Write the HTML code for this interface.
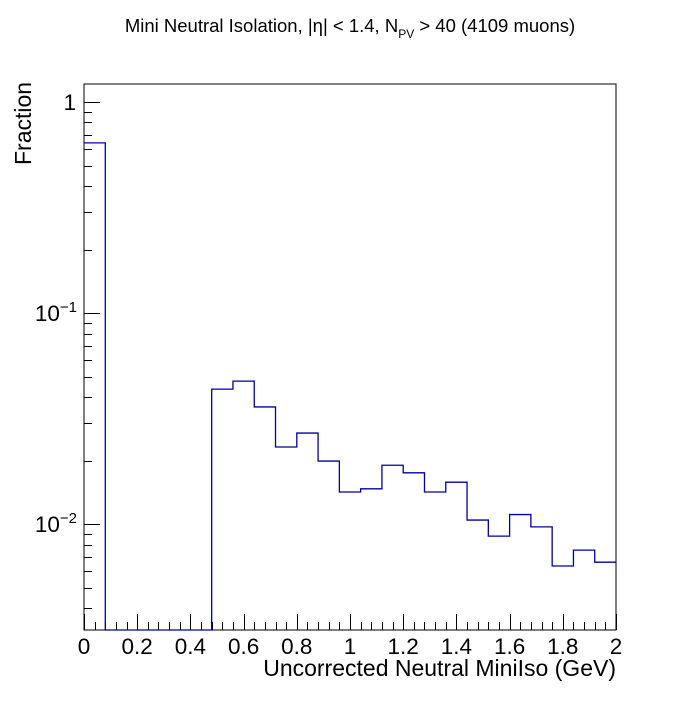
<!DOCTYPE html>
<html><head><meta charset="utf-8"><style>
body{margin:0;background:#fff;}
svg text{font-family:"Liberation Sans",sans-serif;}
</style></head><body>
<svg id="c" width="700" height="700" xmlns="http://www.w3.org/2000/svg">
<rect width="700" height="700" fill="#fff"/>
<text x="350" y="32" font-size="18.5" text-anchor="middle">Mini Neutral Isolation, |η| &lt; 1.4, N<tspan font-size="12" dy="6">PV</tspan><tspan dy="-6"> &gt; 40 (4109 muons)</tspan></text>
<text x="616" y="676" font-size="23" text-anchor="end">Uncorrected Neutral MiniIso (GeV)</text>
<text transform="translate(31,165) rotate(-90)" font-size="23" text-anchor="start">Fraction</text>
<rect x="84" y="84" width="532" height="546" fill="none" stroke="#000" stroke-width="1"/>
<g id="ticks"></g>
<g id="hist"></g>
</svg>
<script>
const binEdgesStart = 0, binWidth = 0.08;
const binValues = [0.64,0,0,0,0,0,0.0436,0.0476,0.0359,0.0232,0.027,0.0199,0.0142,0.0147,0.019,0.0175,0.0142,0.0158,0.01045,0.00877,0.0111,0.0097,0.00633,0.00753,0.0066];
const xTicks = [0,0.2,0.4,0.6,0.8,1,1.2,1.4,1.6,1.8,2];
const xTickLabels = ["0","0.2","0.4","0.6","0.8","1","1.2","1.4","1.6","1.8","2"];
const yDecades = [-2,-1,0];
const yMin = 0.00315, yMax = 1.217;
const X0=84,X1=616,Y0=630,Y1=84;
const sx = v => X0 + (v-0)/(2-0)*(X1-X0);
const sy = v => { if(v<=yMin) return Y0; const l=Math.log10(v); return Y0 - (l-Math.log10(yMin))/(Math.log10(yMax)-Math.log10(yMin))*(Y0-Y1); };
const NS="http://www.w3.org/2000/svg";
const tg=document.getElementById('ticks'), hg=document.getElementById('hist');
function line(g,x1,y1,x2,y2,col){const l=document.createElementNS(NS,'line');l.setAttribute('x1',x1);l.setAttribute('y1',y1);l.setAttribute('x2',x2);l.setAttribute('y2',y2);l.setAttribute('stroke',col||'#000');l.setAttribute('stroke-width','1');g.appendChild(l);return l;}
for(let i=0;i<=50;i++){const v=i*0.04;const x=Math.round(sx(v))+0.5;const major=i%5===0;
const t=line(tg,x,Y0,x,Y0-(major?16:8));

}
xTicks.forEach((v,i)=>{const t=document.createElementNS(NS,'text');t.setAttribute('x',sx(v));t.setAttribute('y',654);t.setAttribute('font-size','22.5');t.setAttribute('text-anchor','middle');t.textContent=xTickLabels[i];

tg.appendChild(t);});
for(let d=-3;d<=0;d++){for(let m=1;m<=9;m++){const v=m*Math.pow(10,d);if(v<yMin||v>yMax)continue;const y=Math.round(sy(v))+0.5;
const t=line(tg,X0,y,X0+(m===1?16:8),y);

}}
yDecades.forEach(d=>{const y=sy(Math.pow(10,d));const t=document.createElementNS(NS,'text');t.setAttribute('x',d===0?76:77);t.setAttribute('y',y+8);t.setAttribute('font-size','22.5');t.setAttribute('text-anchor','end');
if(d===0){t.textContent='1';}else{t.textContent='10';const s=document.createElementNS(NS,'tspan');s.setAttribute('dy','-9');s.setAttribute('font-size','15');s.textContent='−'+(-d);t.appendChild(s);}

tg.appendChild(t);});
let d='';
binValues.forEach((v,i)=>{const xa=sx(binEdgesStart+i*binWidth),xb=sx(binEdgesStart+(i+1)*binWidth);const y=sy(v);
if(i===0)d+=`M${xa},${y}`;else d+=`L${xa},${y}`;d+=`L${xb},${y}`;});
const p=document.createElementNS(NS,'path');p.setAttribute('d',d);p.setAttribute('fill','none');p.setAttribute('stroke','#000099');p.setAttribute('stroke-width','1.3');

hg.appendChild(p);
</script>
</body></html>
